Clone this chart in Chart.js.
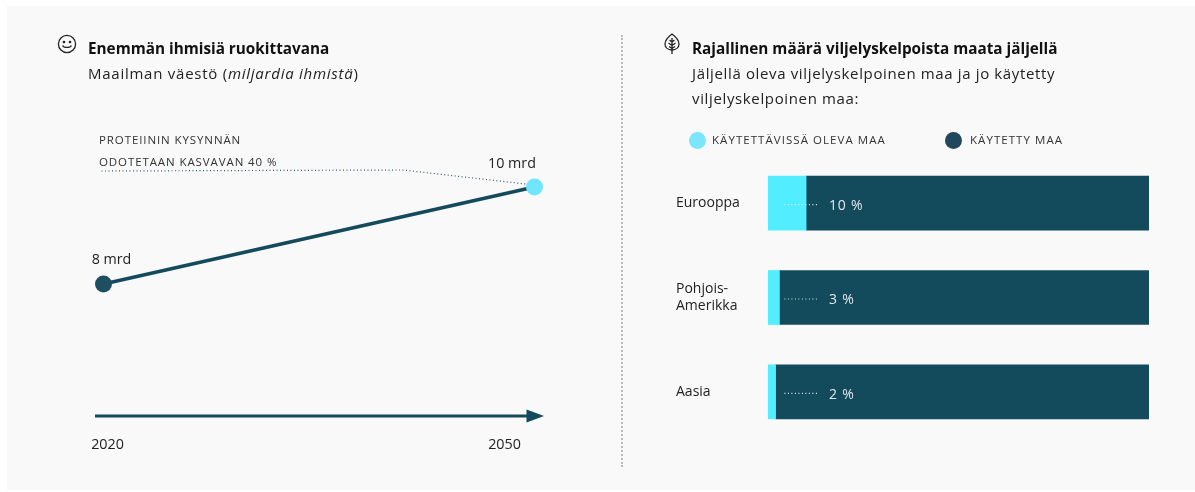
<!DOCTYPE html>
<html lang="fi">
<head>
<meta charset="utf-8">
<script src="https://cdn.jsdelivr.net/npm/chart.js@4"></script>
<style>
html,body{margin:0;padding:0;background:#fff;width:1195px;height:492px;overflow:hidden}
body{position:relative;font-family:"Open Sans",sans-serif;color:#222}
#panel{position:absolute;left:7px;top:6px;width:1188px;height:484px;background:#f9f9f9}
canvas{position:absolute;top:0}
.t{position:absolute;white-space:nowrap}
.h{font-size:15.3px;font-weight:700;color:#111;line-height:20px}
.s{font-size:15px;letter-spacing:.64px;color:#222;line-height:24px}
.c{font-size:11.5px;letter-spacing:.9px;color:#333;line-height:14px}
.l{letter-spacing:1.05px}
.dot{position:absolute;width:17px;height:17px;border-radius:50%}
#div{position:absolute;left:621px;top:35px;height:432px;border-left:2px dotted #bbb}
svg{position:absolute}
</style>
</head>
<body>
<div id="panel"></div>
<div id="div"></div>
<div style="position:absolute;left:0;top:0;width:620px;height:492px"><canvas id="left"></canvas></div>
<div style="position:absolute;left:620px;top:0;width:575px;height:492px"><canvas id="right"></canvas></div>

<svg style="left:57px;top:34px" width="20" height="20" viewBox="0 0 20 20" fill="none" stroke="#222" stroke-width="1.3">
  <circle cx="10" cy="10" r="8.600"/><circle cx="7" cy="8" r=".7" fill="#222"/><circle cx="13" cy="8" r=".7" fill="#222"/>
  <path d="M5.600 11.500c1 2.600 7.800 2.600 8.800 0"/>
</svg>
<svg style="left:663px;top:32px" width="18" height="24" viewBox="0 0 18 24" fill="none" stroke="#222" stroke-width="1.3">
  <path d="M9 2C5 5 2 8.500 2 12c0 3.600 3 6 7 6s7-2.400 7-6c0-3.500-3-7-7-10z"/>
  <path d="M9 6v16M9 10L6.500 8M9 10l2.500-2M9 13.500L5.500 11M9 13.500L12.500 11M9 16.500L6 14.500M9 16.500l3-2"/>
</svg>

<div class="t h" style="left:88px;top:38px">Enemmän ihmisiä ruokittavana</div>
<div class="t s" style="left:88px;top:61px;letter-spacing:.75px">Maailman väestö (<i>miljardia ihmistä</i>)</div>
<div class="t c" style="left:99px;top:133px">PROTEIININ KYSYNNÄN</div>
<div class="t c" style="left:99px;top:155px">ODOTETAAN KASVAVAN 40 %</div>

<div class="t h" style="left:692px;top:38px">Rajallinen määrä viljelyskelpoista maata jäljellä</div>
<div class="t s" style="left:692px;top:61px">Jäljellä oleva viljelyskelpoinen maa ja jo käytetty</div>
<div class="t s" style="left:692px;top:86px">viljelyskelpoinen maa:</div>
<div class="dot" style="left:689px;top:132px;background:#7be6fb"></div>
<div class="t c l" style="left:712px;top:133px" id="lg0"></div>
<div class="dot" style="left:945px;top:132px;background:#20475c"></div>
<div class="t c l" style="left:970px;top:133px" id="lg1"></div>

<script>
const populationYears = [2020, 2050];
const populationValues = [8, 10];
const populationLabels = ['8 mrd', '10 mrd'];
const regions = ['Eurooppa', ['Pohjois-', 'Amerikka'], 'Aasia'];
const availableLand = [10, 3, 2];
const usedLand = [90, 97, 98];
const availableLabels = ['10 %', '3 %', '2 %'];
const seriesNames = ['KÄYTETTÄVISSÄ OLEVA MAA', 'KÄYTETTY MAA'];

const DARK = '#134a5c', CYAN = '#52edff';
const FONT = '"Open Sans", sans-serif';
document.getElementById('lg0').textContent = seriesNames[0];
document.getElementById('lg1').textContent = seriesNames[1];

const leftDecor = {
  id: 'leftDecor',
  afterDatasetsDraw(chart) {
    const {ctx, chartArea: a, scales: {x, y}} = chart;
    ctx.save();
    // dotted leader from the annotation to the 2050 point
    ctx.strokeStyle = '#2f5a6b'; ctx.lineWidth = 1.2; ctx.setLineDash([1, 2.5]);
    ctx.beginPath();
    ctx.moveTo(a.left - 2, 171); ctx.lineTo(403, 170); ctx.lineTo(x.getPixelForValue(2050) - 9, 184);
    ctx.stroke(); ctx.setLineDash([]);
    // time arrow
    const ay = a.bottom;
    ctx.strokeStyle = DARK; ctx.fillStyle = DARK; ctx.lineWidth = 3;
    ctx.beginPath(); ctx.moveTo(a.left - 8.5, ay); ctx.lineTo(a.right - 5, ay); ctx.stroke();
    ctx.beginPath(); ctx.moveTo(a.right - 8, ay - 6.5); ctx.lineTo(a.right + 9.5, ay); ctx.lineTo(a.right - 8, ay + 6.5); ctx.closePath(); ctx.fill();
    // point and tick labels
    ctx.fillStyle = '#222'; ctx.font = '14.3px ' + FONT; ctx.textBaseline = 'middle'; ctx.textAlign = 'center';
    ctx.fillText(populationLabels[0], x.getPixelForValue(populationYears[0]) + 8, 260);
    ctx.fillText(populationLabels[1], x.getPixelForValue(populationYears[1]) - 22.5, 164);
    ctx.fillText(String(populationYears[0]), x.getPixelForValue(populationYears[0]) + 4, 445);
    ctx.fillText(String(populationYears[1]), x.getPixelForValue(populationYears[1]) - 30, 445);
    ctx.restore();
  }
};

new Chart(document.getElementById('left'), {
  type: 'line',
  data: {
    labels: populationYears,
    datasets: [{
      data: populationYears.map((yr, i) => ({x: yr, y: populationValues[i]})),
      borderColor: DARK, borderWidth: 3.5,
      pointRadius: 8.5, pointHoverRadius: 8.5, pointBorderWidth: 0,
      pointBackgroundColor: ['#1f4e63', '#6fe6fb'],
      clip: false, tension: 0
    }]
  },
  options: {
    responsive: true, maintainAspectRatio: false, animation: false,
    layout: {padding: {left: 103.5, right: 85.500, top: 187, bottom: 76}},
    plugins: {legend: {display: false}, tooltip: {enabled: false}},
    scales: {
      x: {type: 'linear', min: 2020, max: 2050, display: false},
      y: {min: 5.278, max: 10, display: false}
    }
  },
  plugins: [leftDecor]
});

const barDecor = {
  id: 'barDecor',
  afterDatasetsDraw(chart) {
    const {ctx, scales: {x, y}} = chart;
    ctx.save();
    availableLabels.forEach((lab, i) => {
      const py = y.getPixelForValue(i);
      ctx.strokeStyle = '#dfeef2'; ctx.lineWidth = 1.2; ctx.setLineDash([1, 2.5]);
      ctx.beginPath(); ctx.moveTo(x.getPixelForValue(4.3), py + 1.5); ctx.lineTo(x.getPixelForValue(13.2), py + 1.5); ctx.stroke();
      ctx.fillStyle = '#dfe9ec'; ctx.font = '14px ' + FONT; ctx.letterSpacing = '0.8px';
      ctx.textBaseline = 'middle'; ctx.textAlign = 'left';
      ctx.fillText(lab, x.getPixelForValue(16), py + 3);
    });
    ctx.restore();
  }
};

new Chart(document.getElementById('right'), {
  type: 'bar',
  data: {
    labels: regions,
    datasets: [
      {label: seriesNames[0], data: availableLand, backgroundColor: CYAN, barThickness: 54, borderWidth: 0},
      {label: seriesNames[1], data: usedLand, backgroundColor: DARK, barThickness: 54, borderWidth: 0}
    ]
  },
  options: {
    indexAxis: 'y',
    responsive: true, maintainAspectRatio: false, animation: false,
    layout: {padding: {left: 56, right: 46, top: 156, bottom: 53}},
    plugins: {legend: {display: false}, tooltip: {enabled: false}},
    scales: {
      x: {stacked: true, min: 0, max: 100, display: false},
      y: {
        stacked: true,
        grid: {display: false},
        border: {display: false},
        afterFit(s) { s.width = 92; },
        ticks: {crossAlign: 'far', padding: 0, color: '#222', font: {family: FONT, size: 14, lineHeight: 1.15}}
      }
    }
  },
  plugins: [barDecor]
});
</script>
</body>
</html>
